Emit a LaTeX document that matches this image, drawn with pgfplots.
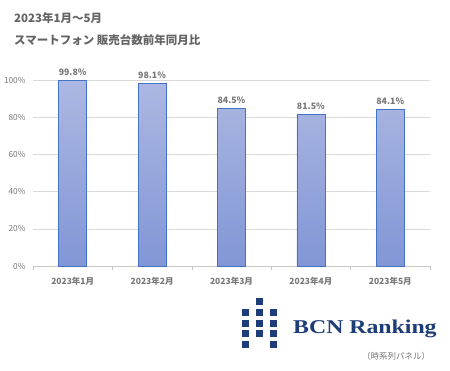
\documentclass[border=0pt]{standalone}
\usepackage{pgfplots}
\pgfplotsset{compat=1.18}
\usepackage{fontspec}
\setmainfont{Noto Sans CJK JP}
\newfontfamily\logofont{Liberation Serif}
\definecolor{txtgray}{RGB}{100,100,100}
\definecolor{tickgray}{RGB}{120,120,120}
\definecolor{gridgray}{RGB}{217,217,217}
\definecolor{barborder}{RGB}{68,114,196}
\definecolor{bartop}{RGB}{172,184,226}
\definecolor{barbot}{RGB}{130,150,214}
\definecolor{navy}{RGB}{30,60,120}
\begin{document}
\begin{tikzpicture}[x=1bp,y=1bp]
\useasboundingbox (0,0) rectangle (450,-370);
\fill[white] (0,0) rectangle (450,-370);
\node[anchor=base west, inner sep=0, font=\fontsize{11.5bp}{13bp}\selectfont\bfseries, text=txtgray] at (14,-22) {2023年1月～5月};
\node[anchor=base west, inner sep=0, font=\fontsize{11.5bp}{13bp}\selectfont\bfseries, text=txtgray] at (14,-44) {スマートフォン 販売台数前年同月比};
\begin{axis}[
  at={(33bp,-266bp)}, anchor=south west,
  scale only axis, width=397bp, height=186bp,
  xmin=-0.5, xmax=4.5, ymin=0, ymax=100,
  axis lines*=left,
  x axis line style={draw=gridgray!80!gray, line width=0.6bp},
  y axis line style={draw=none},
  ymajorgrids, grid style={draw=gridgray, line width=0.6bp},
  ytick={0,20,40,60,80,100},
  yticklabels={0\%,20\%,40\%,60\%,80\%,100\%},
  xtick={0,1,2,3,4},
  xticklabels={2023年1月,2023年2月,2023年3月,2023年4月,2023年5月},
  minor xtick={-0.5,0.5,1.5,2.5,3.5,4.5},
  tick align=outside,
  major tick length=0pt,
  minor tick length=4bp,
  minor tick style={draw=gridgray!80!gray, line width=0.6bp},
  yticklabel style={font=\fontsize{8.3bp}{9bp}\selectfont, text=tickgray, xshift=-4bp},
  xticklabel style={font=\fontsize{8.5bp}{10bp}\selectfont\bfseries, text=tickgray, yshift=-8bp},
  clip=false,
  nodes near coords={\pgfmathprintnumber[assume math mode=true,fixed,precision=1,fixed zerofill]{\pgfplotspointmeta}\%},
  every node near coord/.append style={font=\fontsize{8.8bp}{10bp}\selectfont\bfseries, text=tickgray, yshift=1bp},
]
\addplot[ybar, bar width=28bp, draw=barborder, line width=0.8bp, top color=bartop, bottom color=barbot]
 coordinates {(0,99.8) (1,98.1) (2,84.5) (3,81.5) (4,84.1)};
\end{axis}
% logo
\foreach \cx/\cy in {256/298, 242/308.8, 256/308.8, 269.5/308.8, 242/319.6, 256/319.6, 269.5/319.6, 242/330.4, 256/330.4, 269.5/330.4, 242/341.2, 269.5/341.2}
  \fill[navy] (\cx,-\cy) rectangle ++(7,-7);
\node[anchor=base west, inner sep=0, text=navy] at (293,-333) {\scalebox{1.22}[1]{\logofont\bfseries\fontsize{19.5bp}{22bp}\selectfont BCN Ranking}};
\node[anchor=base west, inner sep=0, text=tickgray, font=\fontsize{8.5bp}{10bp}\selectfont] at (362,-359) {（時系列パネル）};
\end{tikzpicture}
\end{document}
